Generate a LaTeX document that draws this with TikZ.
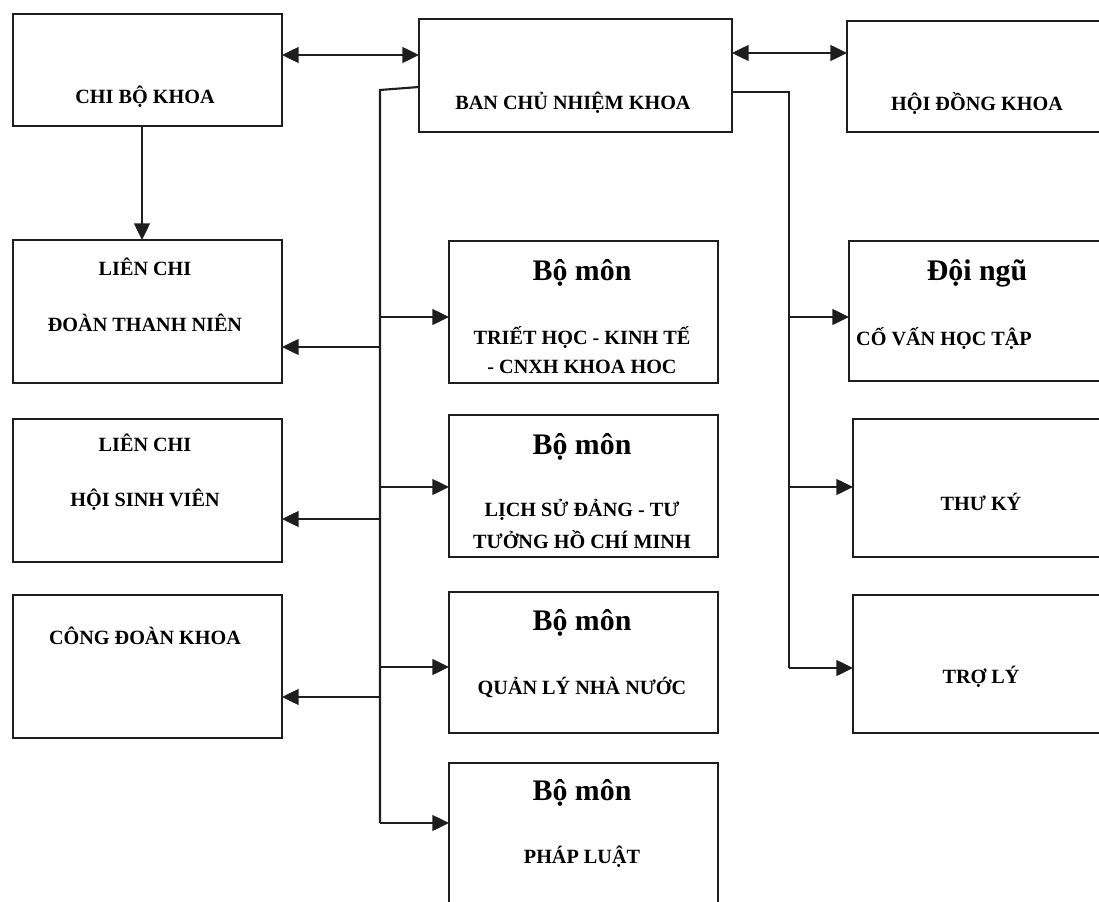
\documentclass[tikz,border=0pt]{standalone}
\usepackage{fontspec}
\setmainfont{Liberation Serif}
\usetikzlibrary{arrows.meta}
\definecolor{linec}{RGB}{30,30,30}
\tikzset{
  box/.style={draw=linec, line width=1.3pt, rectangle, inner sep=0pt, outer sep=0pt, fill=white},
  capt/.style={font=\fontsize{11.5}{13}\selectfont\bfseries, text=black, inner sep=0pt},
  bigt/.style={font=\fontsize{17}{20}\selectfont\bfseries, text=black, inner sep=0pt},
  conn/.style={draw=linec, line width=1.2pt},
  arr/.style={conn, -{Triangle[length=9.5pt,width=9pt]}},
  dbl/.style={conn, {Triangle[length=9.5pt,width=9pt]}-{Triangle[length=9.5pt,width=9pt]}}
}
\newcommand\boxnode[5]{%
  \node[box, minimum width={(#4-#2)*0.02cm}, minimum height={(#5-#3)*0.02cm}] (#1) at ({(#2+#4)/2},{(#3+#5)/2}) {};}
\begin{document}
\begin{tikzpicture}[x=0.02cm, y=-0.02cm]
\useasboundingbox (0,0) rectangle (1099,902);
\clip (0,0) rectangle (1099,902);
\fill[white] (0,0) rectangle (1099,902);

% boxes
\boxnode{chibo}{13}{14}{282}{126}
\boxnode{ban}{419}{19}{732}{132}
\boxnode{hoidong}{847}{21}{1120}{132}
\boxnode{lcdoan}{13}{240}{282}{383}
\boxnode{lchoi}{13}{419}{282}{562}
\boxnode{congdoan}{13}{595}{282}{738}
\boxnode{bmA}{449}{241}{718}{383}
\boxnode{bmB}{449}{415}{718}{557}
\boxnode{bmC}{449}{592}{718}{733}
\boxnode{bmD}{449}{763}{718}{930}
\boxnode{doingu}{849}{241}{1120}{381}
\boxnode{thuky}{853}{419}{1120}{557}
\boxnode{troly}{853}{595}{1120}{733}

% texts
\node[capt] (tchibo) at (145,97) {CHI BỘ KHOA};
\node[capt] (tban) at (573,103) {BAN CHỦ NHIỆM KHOA};
\node[capt] (thoidong) at (977,103) {HỘI ĐỒNG KHOA};
\node[capt] (tlc1a) at (145,267) {LIÊN CHI};
\node[capt] (tlc1b) at (145,323) {ĐOÀN THANH NIÊN};
\node[capt] (tlc2a) at (145,443) {LIÊN CHI};
\node[capt] (tlc2b) at (145,500) {HỘI SINH VIÊN};
\node[capt] (tcd) at (145,636) {CÔNG ĐOÀN KHOA};
\node[bigt] (tbmA) at (582,273) {Bộ môn};
\node[capt] (tbmA1) at (582,337) {TRIẾT HỌC - KINH TẾ};
\node[capt] (tbmA2) at (582,367) {- CNXH KHOA HOC};
\node[bigt] (tbmB) at (582,447) {Bộ môn};
\node[capt] (tbmB1) at (582,510) {LỊCH SỬ ĐẢNG - TƯ};
\node[capt] (tbmB2) at (582,540) {TƯỞNG HỒ CHÍ MINH};
\node[bigt] (tbmC) at (582,623) {Bộ môn};
\node[capt] (tbmC1) at (582,687) {QUẢN LÝ NHÀ NƯỚC};
\node[bigt] (tbmD) at (582,793) {Bộ môn};
\node[capt] (tbmD1) at (582,857) {PHÁP LUẬT};
\node[bigt] (tdoingu) at (977,273) {Đội ngũ};
\node[capt] (tdoingu1) at (944,338) {CỐ VẤN HỌC TẬP};
\node[capt] (tthuky) at (981,502) {THƯ KÝ};
\node[capt] (ttroly) at (981,677) {TRỢ LÝ};

% bus coordinates
\coordinate (lbtop) at (380,90);
\coordinate (lbend) at (380,823);
\coordinate (rbtop) at (789,92);
\coordinate (rbend) at (789,668);

% top connectors
\draw[dbl] (chibo.east |- 0,55) -- (ban.west |- 0,55);
\draw[dbl] (ban.east |- 0,53) -- (hoidong.west |- 0,53);
\draw[arr] (chibo.south -| 142,0) -- (lcdoan.north -| 142,0);

% left bus
\draw[conn] (ban.west |- 0,87) -- (lbtop) -- (lbend);
\draw[arr] (lbtop |- 0,317) -- (bmA.west |- 0,317);
\draw[arr] (lbtop |- 0,487) -- (bmB.west |- 0,487);
\draw[arr] (lbtop |- 0,667) -- (bmC.west |- 0,667);
\draw[arr] (lbend) -- (bmD.west |- lbend);
\draw[arr] (lbtop |- 0,347) -- (lcdoan.east |- 0,347);
\draw[arr] (lbtop |- 0,519) -- (lchoi.east |- 0,519);
\draw[arr] (lbtop |- 0,697) -- (congdoan.east |- 0,697);

% right bus
\draw[conn] (ban.east |- rbtop) -- (rbtop) -- (rbend);
\draw[arr] (rbtop |- 0,317) -- (doingu.west |- 0,317);
\draw[arr] (rbtop |- 0,487) -- (thuky.west |- 0,487);
\draw[arr] (rbend) -- (troly.west |- rbend);
\end{tikzpicture}
\end{document}
